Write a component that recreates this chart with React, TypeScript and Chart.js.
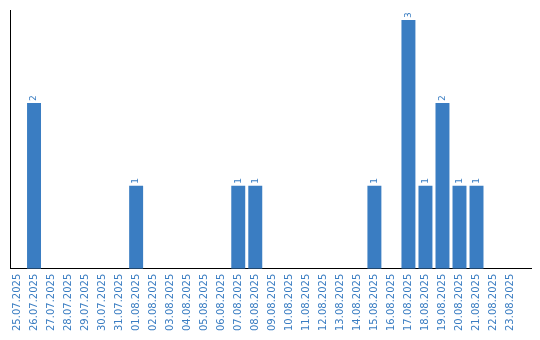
import React, { useEffect, useRef } from "react";
import { Chart, registerables } from "chart.js";

Chart.register(...registerables);

const categories = [
  "25.07.2025", "26.07.2025", "27.07.2025", "28.07.2025", "29.07.2025", "30.07.2025",
  "31.07.2025", "01.08.2025", "02.08.2025", "03.08.2025", "04.08.2025", "05.08.2025",
  "06.08.2025", "07.08.2025", "08.08.2025", "09.08.2025", "10.08.2025", "11.08.2025",
  "12.08.2025", "13.08.2025", "14.08.2025", "15.08.2025", "16.08.2025", "17.08.2025",
  "18.08.2025", "19.08.2025", "20.08.2025", "21.08.2025", "22.08.2025", "23.08.2025",
];

const counts = [
  0, 2, 0, 0, 0, 0,
  0, 1, 0, 0, 0, 0,
  0, 1, 1, 0, 0, 0,
  0, 0, 0, 1, 0, 3,
  1, 2, 1, 1, 0, 0,
];

const BLUE = "rgb(58,125,194)";

// The category band in the reference starts slightly left of the y axis and
// stops short of the end of the x axis line.
const bandShift = {
  id: "bandShift",
  afterLayout(chart: any) {
    const x = chart.scales.x;
    const start = x.left - 1.5;
    const len = x.right - x.left - 11;
    x._startPixel = start;
    x._length = len;
    x._endPixel = start + len;
    x._labelItems = null;
  },
};

const valueLabels = {
  id: "valueLabels",
  afterDatasetsDraw(chart: any) {
    const ctx = chart.ctx;
    const meta = chart.getDatasetMeta(0);
    ctx.save();
    ctx.fillStyle = BLUE;
    ctx.font = "9px 'DejaVu Sans'";
    ctx.textAlign = "left";
    ctx.textBaseline = "middle";
    meta.data.forEach((bar: any, i: number) => {
      const v = counts[i];
      if (!v) return;
      ctx.save();
      ctx.translate(bar.x, bar.y - 2);
      ctx.rotate(-Math.PI / 2);
      ctx.fillText(String(v), 0, 0);
      ctx.restore();
    });
    ctx.restore();
  },
};

export default function App() {
  const ref = useRef<HTMLCanvasElement | null>(null);
  useEffect(() => {
    document.body.style.margin = "0";
    const chart = new Chart(ref.current!, {
      type: "bar",
      data: {
        labels: categories,
        datasets: [
          {
            data: counts,
            backgroundColor: BLUE,
            barPercentage: 1,
            categoryPercentage: 0.82,
          },
        ],
      },
      options: {
        animation: false,
        responsive: false,
        layout: { padding: { left: 10, right: 8, top: 10, bottom: 4 } },
        plugins: { legend: { display: false }, tooltip: { enabled: false } },
        scales: {
          x: {
            grid: { display: false, drawTicks: false },
            border: { display: true, color: "#000", width: 1 },
            ticks: {
              color: BLUE,
              font: { family: "'DejaVu Sans'", size: 10 },
              minRotation: 90,
              maxRotation: 90,
              autoSkip: false,
              padding: 5,
            },
          },
          y: {
            min: 0,
            max: 3.12,
            grid: { display: false, drawTicks: false },
            border: { display: true, color: "#000", width: 1 },
            ticks: { display: false },
          },
        },
      },
      plugins: [bandShift, valueLabels],
    });
    return () => chart.destroy();
  }, []);
  return <canvas ref={ref} width={540} height={340} style={{ display: "block" }} />;
}
